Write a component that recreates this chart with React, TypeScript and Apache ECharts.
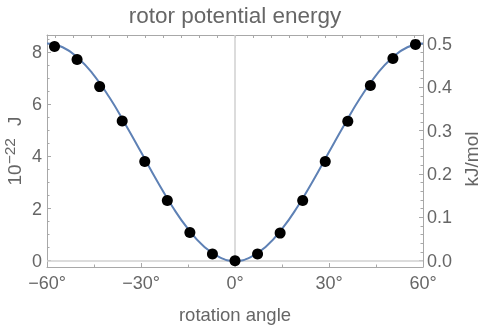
import React, { useEffect, useRef } from "react";
import * as echarts from "echarts";

// sample angles (degrees) and energies (10^-22 J) of the measured points
const pointAngles = [-57.6, -50.4, -43.2, -36, -28.8, -21.6, -14.4, -7.2, 0, 7.2, 14.4, 21.6, 28.8, 36, 43.2, 50.4, 57.6];
const pointEnergies = [8.22, 7.72, 6.68, 5.36, 3.81, 2.31, 1.08, 0.26, 0.0, 0.26, 1.06, 2.31, 3.81, 5.35, 6.72, 7.76, 8.3];

// fitted curve (degrees, 10^-22 J)
const curveAngles = [-60, -55, -50, -45, -40, -35, -30, -25, -20, -15, -10, -5, 0, 5, 10, 15, 20, 25, 30, 35, 40, 45, 50, 55, 60];
const curveEnergies = [8.33, 8.19, 7.77, 7.11, 6.25, 5.24, 4.17, 3.09, 2.08, 1.22, 0.56, 0.14, 0, 0.14, 0.56, 1.22, 2.08, 3.09, 4.17, 5.24, 6.25, 7.11, 7.77, 8.19, 8.33];

// tick labels
const xTicks = [-60, -30, 0, 30, 60];
const xMinorTicks = [-45, -15, 15, 45];
const topRadTicks = [-1.0, -0.9, -0.8, -0.7, -0.6, -0.5, -0.4, -0.3, -0.2, -0.1, 0, 0.1, 0.2, 0.3, 0.4, 0.5, 0.6, 0.7, 0.8, 0.9, 1.0];
const leftTicks = [0, 2, 4, 6, 8];
const leftMinorTicks = [0.5, 1, 1.5, 2.5, 3, 3.5, 4.5, 5, 5.5, 6.5, 7, 7.5, 8.5];
const rightTicks = [0, 0.1, 0.2, 0.3, 0.4, 0.5];
const rightMinorTicks = [0.02, 0.04, 0.06, 0.08, 0.12, 0.14, 0.16, 0.18, 0.22, 0.24, 0.26, 0.28, 0.32, 0.34, 0.36, 0.38, 0.42, 0.44, 0.46, 0.48];

const FRAME = "#a8a8a8";
const TEXT = "#666666";
const FONT = "Liberation Sans, Arial, sans-serif";

const X_MIN = -60, X_MAX = 60;
const L_MIN = -0.24, L_MAX = 8.66;
const R_MIN = -0.0145, R_MAX = 0.5205;

export default function App() {
  const ref = useRef<HTMLDivElement>(null);
  useEffect(() => {
    if (!ref.current) return;
    const chart = echarts.init(ref.current, null, { renderer: "svg" });
    const gridPos = { left: 47, right: 62, top: 35, bottom: 60, containLabel: false, outerBoundsMode: "none" };
    const fmtDeg = (v: number) => (v < 0 ? "\u2212" + -v : String(v)) + "°";
    const topDeg = topRadTicks.map((r) => (r * 180) / Math.PI);
    chart.setOption({
      animation: false,
      textStyle: { fontFamily: FONT },
      title: {
        text: "rotor potential energy",
        left: 235,
        textAlign: "center",
        top: 4,
        padding: 0,
        textStyle: { color: TEXT, fontSize: 22.5, fontWeight: "normal", fontFamily: FONT },
      },
      graphic: [
        {
          type: "text", x: 14, y: 151, rotation: Math.PI / 2, silent: true,
          style: {
            text: "{a|10}{s|\u221222}{j|J}",
            align: "center", verticalAlign: "middle",
            rich: {
              a: { fill: TEXT, fontSize: 19, fontFamily: FONT },
              s: { fill: TEXT, fontSize: 15.5, fontFamily: FONT, verticalAlign: "top", padding: [0, 0, 9, 0] },
              j: { fill: TEXT, fontSize: 19, fontFamily: FONT, padding: [0, 0, 0, 12] },
            },
          },
        },
        {
          type: "text", x: 471, y: 159, rotation: Math.PI / 2, silent: true,
          style: { text: "kJ/mol", fill: TEXT, fontSize: 19, fontFamily: FONT, align: "center", verticalAlign: "middle" },
        },
      ],
      grid: [gridPos, gridPos],
      xAxis: [
        {
          gridIndex: 0, type: "value", position: "bottom", min: X_MIN, max: X_MAX,
          name: "rotation angle", nameLocation: "middle", nameGap: 38,
          nameTextStyle: { color: TEXT, fontSize: 18.5, fontFamily: FONT },
          axisLine: { show: true, onZero: false, lineStyle: { color: FRAME, width: 1 } },
          axisTick: { show: true, inside: true, length: 4, customValues: xTicks, lineStyle: { color: FRAME } },
          axisLabel: { show: true, customValues: xTicks, formatter: fmtDeg, color: TEXT, fontSize: 18, margin: 7, fontFamily: FONT },
          splitLine: { show: false },
        },
        {
          gridIndex: 0, type: "value", position: "top", min: X_MIN, max: X_MAX,
          axisLine: { show: true, onZero: false, lineStyle: { color: FRAME, width: 1 } },
          axisTick: { show: true, inside: true, length: 3, customValues: topDeg, lineStyle: { color: FRAME } },
          axisLabel: { show: false },
          splitLine: { show: false },
        },
        {
          gridIndex: 1, type: "value", position: "bottom", min: X_MIN, max: X_MAX,
          axisLine: { show: false, onZero: false },
          axisTick: { show: true, inside: true, length: 2.5, customValues: xMinorTicks, lineStyle: { color: FRAME } },
          axisLabel: { show: false },
          splitLine: { show: false },
        },
      ],
      yAxis: [
        {
          gridIndex: 0, type: "value", position: "left", min: L_MIN, max: L_MAX,
          axisLine: { show: true, onZero: false, lineStyle: { color: FRAME, width: 1 } },
          axisTick: { show: true, inside: true, length: 4, customValues: leftTicks, lineStyle: { color: FRAME } },
          axisLabel: { show: true, customValues: leftTicks, color: TEXT, fontSize: 18, margin: 5, fontFamily: FONT },
          splitLine: { show: false },
        },
        {
          gridIndex: 0, type: "value", position: "right", min: R_MIN, max: R_MAX,
          axisLine: { show: true, onZero: false, lineStyle: { color: FRAME, width: 1 } },
          axisTick: { show: true, inside: true, length: 4, customValues: rightTicks, lineStyle: { color: FRAME } },
          axisLabel: { show: true, customValues: rightTicks, formatter: (v: number) => v.toFixed(1), color: TEXT, fontSize: 18, margin: 4, fontFamily: FONT },
          splitLine: { show: false },
        },
        {
          gridIndex: 1, type: "value", position: "left", min: L_MIN, max: L_MAX,
          axisLine: { show: false, onZero: false },
          axisTick: { show: true, inside: true, length: 2.5, customValues: leftMinorTicks, lineStyle: { color: FRAME } },
          axisLabel: { show: false },
          splitLine: { show: false },
        },
        {
          gridIndex: 1, type: "value", position: "right", min: R_MIN, max: R_MAX,
          axisLine: { show: false, onZero: false },
          axisTick: { show: true, inside: true, length: 2.5, customValues: rightMinorTicks, lineStyle: { color: FRAME } },
          axisLabel: { show: false },
          splitLine: { show: false },
        },
      ],
      series: [
        {
          type: "line", xAxisIndex: 0, yAxisIndex: 0, data: [], z: 1, silent: true,
          markLine: {
            silent: true, symbol: "none", label: { show: false }, z: 1,
            lineStyle: { color: "#d0d0d0", width: 1.5, type: "solid" },
            data: [{ xAxis: 0 }, { yAxis: 0 }],
          },
        },
        {
          type: "line", xAxisIndex: 0, yAxisIndex: 0, z: 2,
          data: curveAngles.map((a, i) => [a, curveEnergies[i]]),
          smooth: true, showSymbol: false, symbol: "none",
          lineStyle: { color: "#5e81b5", width: 2 },
        },
        {
          type: "scatter", xAxisIndex: 0, yAxisIndex: 0, z: 3,
          data: pointAngles.map((a, i) => [a, pointEnergies[i]]),
          symbolSize: 11, itemStyle: { color: "#000000", opacity: 1 },
        },
        { type: "line", xAxisIndex: 2, yAxisIndex: 2, data: [] },
      ],
    });
    return () => chart.dispose();
  }, []);
  return <div ref={ref} style={{ position: "fixed", left: 0, top: 0, width: 485, height: 327 }} />;
}
